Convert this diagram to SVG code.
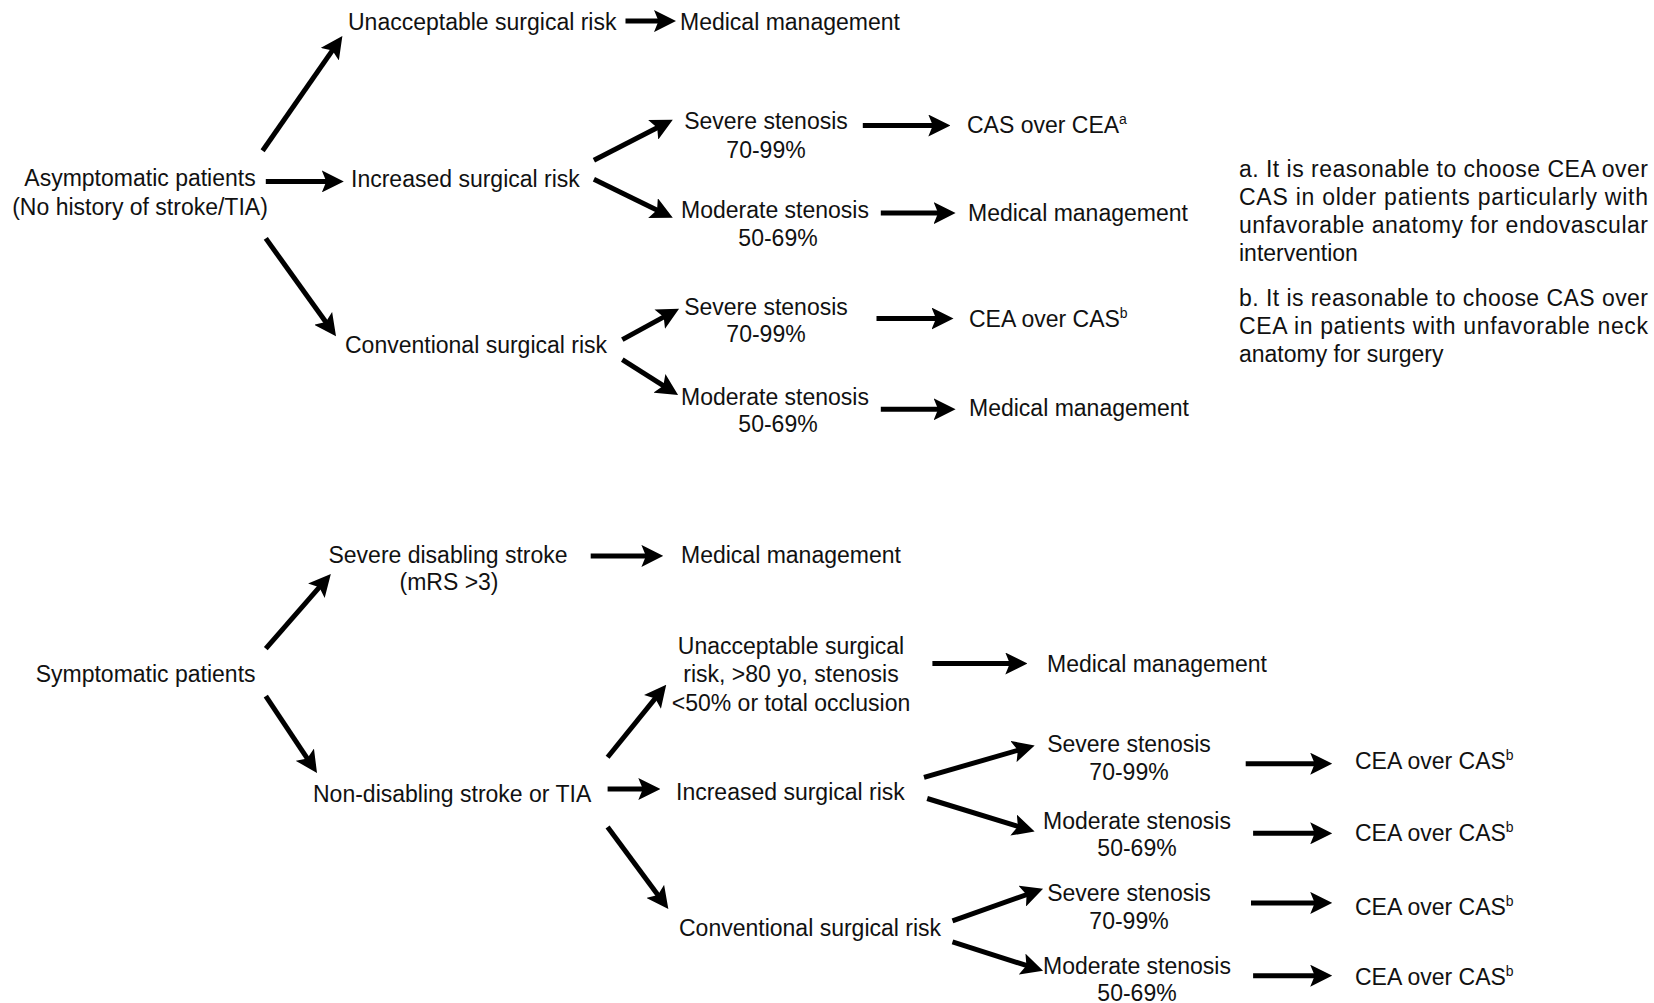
<svg xmlns="http://www.w3.org/2000/svg" width="1654" height="1003" viewBox="0 0 1654 1003">
<defs>
<style>
text{font-family:"Liberation Sans",Arial,Helvetica,sans-serif;font-size:23px;fill:#111;}
.c{text-anchor:middle;}
.sup{font-size:14px;}
.conn line{stroke:#000;stroke-width:5;marker-end:url(#ah);}
</style>
<marker id="ah" markerUnits="userSpaceOnUse" viewBox="0 0 22 22" markerWidth="22" markerHeight="22" refX="11" refY="11" orient="auto">
<path d="M0,0 L22,11 L0,22 L4.5,11 z" fill="#000"/>
</marker>
</defs>
<rect width="1654" height="1003" fill="#fff"/>

<g id="connectors" class="conn">
<line x1="262.6" y1="150.8" x2="336.1" y2="45.1"/>
<line x1="265.8" y1="181.4" x2="332.8" y2="181.4"/>
<line x1="265.8" y1="238.4" x2="329.6" y2="327.3"/>
<line x1="625.5" y1="21.1" x2="665" y2="21.1"/>
<line x1="593.9" y1="160.3" x2="663" y2="124.8"/>
<line x1="593.9" y1="179.3" x2="662.9" y2="212.9"/>
<line x1="862.8" y1="125.5" x2="939.3" y2="125.5"/>
<line x1="880.8" y1="213.1" x2="944.6" y2="213.1"/>
<line x1="622.3" y1="339.6" x2="669.4" y2="313.9"/>
<line x1="622.3" y1="359.7" x2="668.8" y2="389.2"/>
<line x1="876.5" y1="318.5" x2="942.5" y2="318.5"/>
<line x1="880.8" y1="409.3" x2="944.6" y2="409.3"/>

<line x1="265.8" y1="648.7" x2="323.6" y2="582.4"/>
<line x1="265.8" y1="696.2" x2="310.9" y2="763.8"/>
<line x1="590.7" y1="555.9" x2="652.4" y2="555.9"/>
<line x1="607.6" y1="757.3" x2="659.3" y2="693.4"/>
<line x1="607.6" y1="789" x2="649.3" y2="789"/>
<line x1="607.6" y1="827" x2="661.8" y2="900.2"/>
<line x1="932.4" y1="663.5" x2="1016.3" y2="663.5"/>
<line x1="924" y1="777.4" x2="1024.1" y2="748.5"/>
<line x1="927.2" y1="798.5" x2="1024.1" y2="828.3"/>
<line x1="1245.7" y1="763.7" x2="1321.2" y2="763.7"/>
<line x1="1253.1" y1="833.3" x2="1321.2" y2="833.3"/>
<line x1="952.5" y1="920.8" x2="1032.7" y2="892.5"/>
<line x1="952.5" y1="941.9" x2="1032.6" y2="967.4"/>
<line x1="1251" y1="902.9" x2="1321.2" y2="902.9"/>
<line x1="1253.1" y1="975.7" x2="1321.2" y2="975.7"/>
</g>

<!-- Top: asymptomatic -->
<g id="asymptomatic"><text class="c" x="140" y="186">Asymptomatic patients</text><text class="c" x="140" y="215">(No history of stroke/TIA)</text></g>
<g id="a_unacceptable"><text x="348" y="30">Unacceptable surgical risk</text></g>
<g id="a_unacc_med"><text x="680" y="30">Medical management</text></g>
<g id="a_increased"><text x="351" y="187">Increased surgical risk</text></g>
<g id="a_conventional"><text x="345" y="353">Conventional surgical risk</text></g>
<g id="a_inc_severe"><text class="c" x="766" y="129">Severe stenosis</text><text class="c" x="766" y="158">70-99%</text></g>
<g id="a_inc_severe_out"><text x="967" y="133">CAS over CEA<tspan class="sup" dy="-9">a</tspan></text></g>
<g id="a_inc_moderate"><text class="c" x="775" y="218">Moderate stenosis</text><text class="c" x="778" y="246">50-69%</text></g>
<g id="a_inc_moderate_out"><text x="968" y="221">Medical management</text></g>
<g id="a_conv_severe"><text class="c" x="766" y="315">Severe stenosis</text><text class="c" x="766" y="342">70-99%</text></g>
<g id="a_conv_severe_out"><text x="969" y="327">CEA over CAS<tspan class="sup" dy="-9">b</tspan></text></g>
<g id="a_conv_moderate"><text class="c" x="775" y="405">Moderate stenosis</text><text class="c" x="778" y="432">50-69%</text></g>
<g id="a_conv_moderate_out"><text x="969" y="416">Medical management</text></g>

<g id="footnotes">
<text x="1239" y="177" textLength="409" lengthAdjust="spacing">a. It is reasonable to choose CEA over</text>
<text x="1239" y="205" textLength="409" lengthAdjust="spacing">CAS in older patients particularly with</text>
<text x="1239" y="233" textLength="409" lengthAdjust="spacing">unfavorable anatomy for endovascular</text>
<text x="1239" y="261">intervention</text>
<text x="1239" y="306" textLength="409" lengthAdjust="spacing">b. It is reasonable to choose CAS over</text>
<text x="1239" y="334" textLength="409" lengthAdjust="spacing">CEA in patients with unfavorable neck</text>
<text x="1239" y="362">anatomy for surgery</text>
</g>

<!-- Bottom: symptomatic -->
<g id="symptomatic"><text class="c" x="145.6" y="682">Symptomatic patients</text></g>
<g id="s_severe_stroke"><text class="c" x="448" y="563">Severe disabling stroke</text><text class="c" x="449" y="590">(mRS &gt;3)</text></g>
<g id="s_severe_stroke_out"><text x="681" y="563">Medical management</text></g>
<g id="s_nondisabling"><text x="313" y="802">Non-disabling stroke or TIA</text></g>
<g id="s_unacceptable"><text class="c" x="791" y="654">Unacceptable surgical</text><text class="c" x="791" y="682">risk, &gt;80 yo, stenosis</text><text class="c" x="791" y="711">&lt;50% or total occlusion</text></g>
<g id="s_unacc_out"><text x="1047" y="672">Medical management</text></g>
<g id="s_increased"><text x="676" y="800">Increased surgical risk</text></g>
<g id="s_conventional"><text x="679" y="936">Conventional surgical risk</text></g>
<g id="s_inc_severe"><text class="c" x="1129" y="752">Severe stenosis</text><text class="c" x="1129" y="780">70-99%</text></g>
<g id="s_inc_severe_out"><text x="1355" y="769">CEA over CAS<tspan class="sup" dy="-9">b</tspan></text></g>
<g id="s_inc_moderate"><text class="c" x="1137" y="829">Moderate stenosis</text><text class="c" x="1137" y="856">50-69%</text></g>
<g id="s_inc_moderate_out"><text x="1355" y="841">CEA over CAS<tspan class="sup" dy="-9">b</tspan></text></g>
<g id="s_conv_severe"><text class="c" x="1129" y="901">Severe stenosis</text><text class="c" x="1129" y="929">70-99%</text></g>
<g id="s_conv_severe_out"><text x="1355" y="915">CEA over CAS<tspan class="sup" dy="-9">b</tspan></text></g>
<g id="s_conv_moderate"><text class="c" x="1137" y="974">Moderate stenosis</text><text class="c" x="1137" y="1001">50-69%</text></g>
<g id="s_conv_moderate_out"><text x="1355" y="985">CEA over CAS<tspan class="sup" dy="-9">b</tspan></text></g>
</svg>
